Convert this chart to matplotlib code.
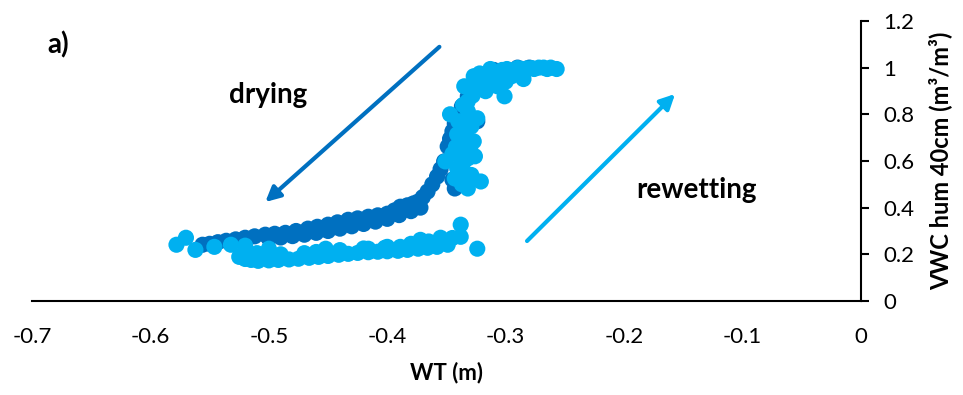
import matplotlib
matplotlib.use("Agg")
import matplotlib.pyplot as plt

plt.rcParams['font.family'] = ['Lato', 'DejaVu Sans']

# Drying branch (dark blue)
dry_wt = [-0.556, -0.550, -0.543, -0.536, -0.528, -0.520, -0.512, -0.503, -0.495,
          -0.486, -0.477, -0.467, -0.459, -0.450, -0.442, -0.433, -0.425, -0.416,
          -0.408, -0.400, -0.394, -0.389, -0.383, -0.378, -0.374, -0.370, -0.366,
          -0.362, -0.358, -0.355, -0.352, -0.349, -0.347, -0.345, -0.343, -0.341,
          -0.337, -0.332, -0.328, -0.320, -0.343, -0.345, -0.324, -0.310, -0.290,
          -0.280,
          -0.500, -0.490, -0.480, -0.470, -0.460, -0.450, -0.440, -0.430, -0.420,
          -0.410, -0.400, -0.390, -0.380, -0.372]
dry_vwc = [0.241, 0.245, 0.252, 0.258, 0.264, 0.271, 0.277, 0.284, 0.288,
           0.292, 0.300, 0.310, 0.318, 0.327, 0.337, 0.348, 0.354, 0.361,
           0.367, 0.374, 0.388, 0.404, 0.410, 0.418, 0.426, 0.445, 0.469,
           0.500, 0.533, 0.565, 0.598, 0.662, 0.695, 0.727, 0.760, 0.791,
           0.834, 0.877, 0.920, 0.963, 0.482, 0.520, 0.770, 0.990, 1.000,
           1.000,
           0.268, 0.272, 0.278, 0.284, 0.292, 0.300, 0.310, 0.320, 0.330,
           0.340, 0.352, 0.368, 0.385, 0.400]

# Rewetting branch (light blue)
wet_wt = [-0.578, -0.570, -0.562, -0.546, -0.532, -0.520, -0.500,
          -0.525, -0.520, -0.515, -0.509, -0.500, -0.492, -0.483, -0.475, -0.466,
          -0.458, -0.450, -0.441, -0.433, -0.425, -0.416, -0.408, -0.400, -0.391,
          -0.383, -0.374, -0.366, -0.358, -0.349,
          -0.520, -0.510, -0.490, -0.470, -0.460, -0.440, -0.420, -0.400, -0.380,
          -0.365, -0.355, -0.345,
          -0.452, -0.416, -0.402, -0.389, -0.372, -0.355, -0.338, -0.338, -0.324,
          -0.347, -0.341, -0.338, -0.341, -0.343, -0.332, -0.321, -0.332, -0.327,
          -0.324, -0.332, -0.351, -0.337, -0.332, -0.335, -0.327, -0.320,
          -0.340, -0.336, -0.330, -0.338, -0.334, -0.329, -0.340, -0.336, -0.328,
          -0.342, -0.326, -0.329, -0.337, -0.345,
          -0.313, -0.307, -0.301, -0.295, -0.285, -0.276, -0.265, -0.257, -0.299,
          -0.290, -0.317, -0.329,
          -0.322, -0.315, -0.308, -0.303, -0.297, -0.292, -0.287, -0.282, -0.278,
          -0.272, -0.268, -0.262, -0.300, -0.310, -0.318, -0.325]
wet_vwc = [0.241, 0.271, 0.219, 0.232, 0.241, 0.237, 0.224,
           0.189, 0.180, 0.176, 0.172, 0.174, 0.176, 0.178, 0.181, 0.185,
           0.189, 0.193, 0.198, 0.202, 0.206, 0.209, 0.211, 0.213, 0.215,
           0.219, 0.224, 0.228, 0.232, 0.241,
           0.215, 0.205, 0.200, 0.205, 0.210, 0.218, 0.225, 0.232, 0.245,
           0.255, 0.262, 0.270,
           0.224, 0.224, 0.228, 0.232, 0.262, 0.271, 0.327, 0.275, 0.224,
           0.800, 0.714, 0.641, 0.568, 0.525, 0.482, 0.512, 0.611, 0.684,
           0.783, 0.813, 0.598, 0.748, 0.856, 0.920, 0.963, 0.942,
           0.550, 0.590, 0.650, 0.680, 0.720, 0.760, 0.770, 0.840, 0.880,
           0.660, 0.620, 0.540, 0.500, 0.630,
           0.994, 0.920, 0.877, 0.963, 0.951, 0.994, 0.994, 0.994, 0.994,
           0.998, 0.899, 0.748,
           0.975, 0.960, 0.970, 0.990, 0.985, 0.990, 0.995, 0.997, 0.998,
           1.000, 1.000, 1.000, 0.940, 0.930, 0.930, 0.930]

x_ticks = [-0.7, -0.6, -0.5, -0.4, -0.3, -0.2, -0.1, 0]
x_ticklabels = ['-0.7', '-0.6', '-0.5', '-0.4', '-0.3', '-0.2', '-0.1', '0']
y_ticks = [0, 0.2, 0.4, 0.6, 0.8, 1.0, 1.2]
y_ticklabels = ['0', '0.2', '0.4', '0.6', '0.8', '1', '1.2']

DARK = '#0070C0'
LIGHT = '#00B0F0'

fig = plt.figure(figsize=(9.63, 3.95), dpi=100)
ax = fig.add_axes([0.0332, 0.238, 0.8609, 0.709])

ax.scatter(dry_wt, dry_vwc, s=135, color=DARK, edgecolors='none', zorder=3)
ax.scatter(wet_wt, wet_vwc, s=135, color=LIGHT, edgecolors='none', zorder=4)

ax.set_xlim(-0.7, 0)
ax.set_ylim(0, 1.2)

for s in ['top', 'left']:
    ax.spines[s].set_visible(False)
ax.spines['right'].set_linewidth(1.5)
ax.spines['bottom'].set_linewidth(1.5)

ax.yaxis.tick_right()
ax.yaxis.set_label_position('right')
ax.set_xticks(x_ticks)
ax.set_xticklabels(x_ticklabels)
ax.set_yticks(y_ticks)
ax.set_yticklabels(y_ticklabels)
ax.tick_params(axis='x', length=0, pad=19, labelsize=16)
ax.tick_params(axis='y', direction='out', length=6, width=1.5, pad=10, labelsize=16)

ax.set_xlabel('WT (m)', fontsize=16, fontweight='bold', labelpad=10)
ax.set_ylabel('VWC hum 40cm (m³/m³)', fontsize=17, fontweight='bold', labelpad=10)

ax.text(-0.687, 1.097, 'a)', fontsize=20, fontweight='bold', ha='left', va='center')
ax.text(-0.501, 0.883, 'drying', fontsize=20, fontweight='bold', ha='center', va='center')
ax.text(-0.139, 0.476, 'rewetting', fontsize=20, fontweight='bold', ha='center', va='center')

ax.annotate('', xy=(-0.503, 0.424), xytext=(-0.356, 1.089),
            arrowprops=dict(arrowstyle='-|>', color=DARK, lw=3, mutation_scale=22,
                            shrinkA=0, shrinkB=0), annotation_clip=False)
ax.annotate('', xy=(-0.157, 0.887), xytext=(-0.282, 0.257),
            arrowprops=dict(arrowstyle='-|>', color=LIGHT, lw=3, mutation_scale=22,
                            shrinkA=0, shrinkB=0), annotation_clip=False)

fig.savefig('out.png', dpi=100)
